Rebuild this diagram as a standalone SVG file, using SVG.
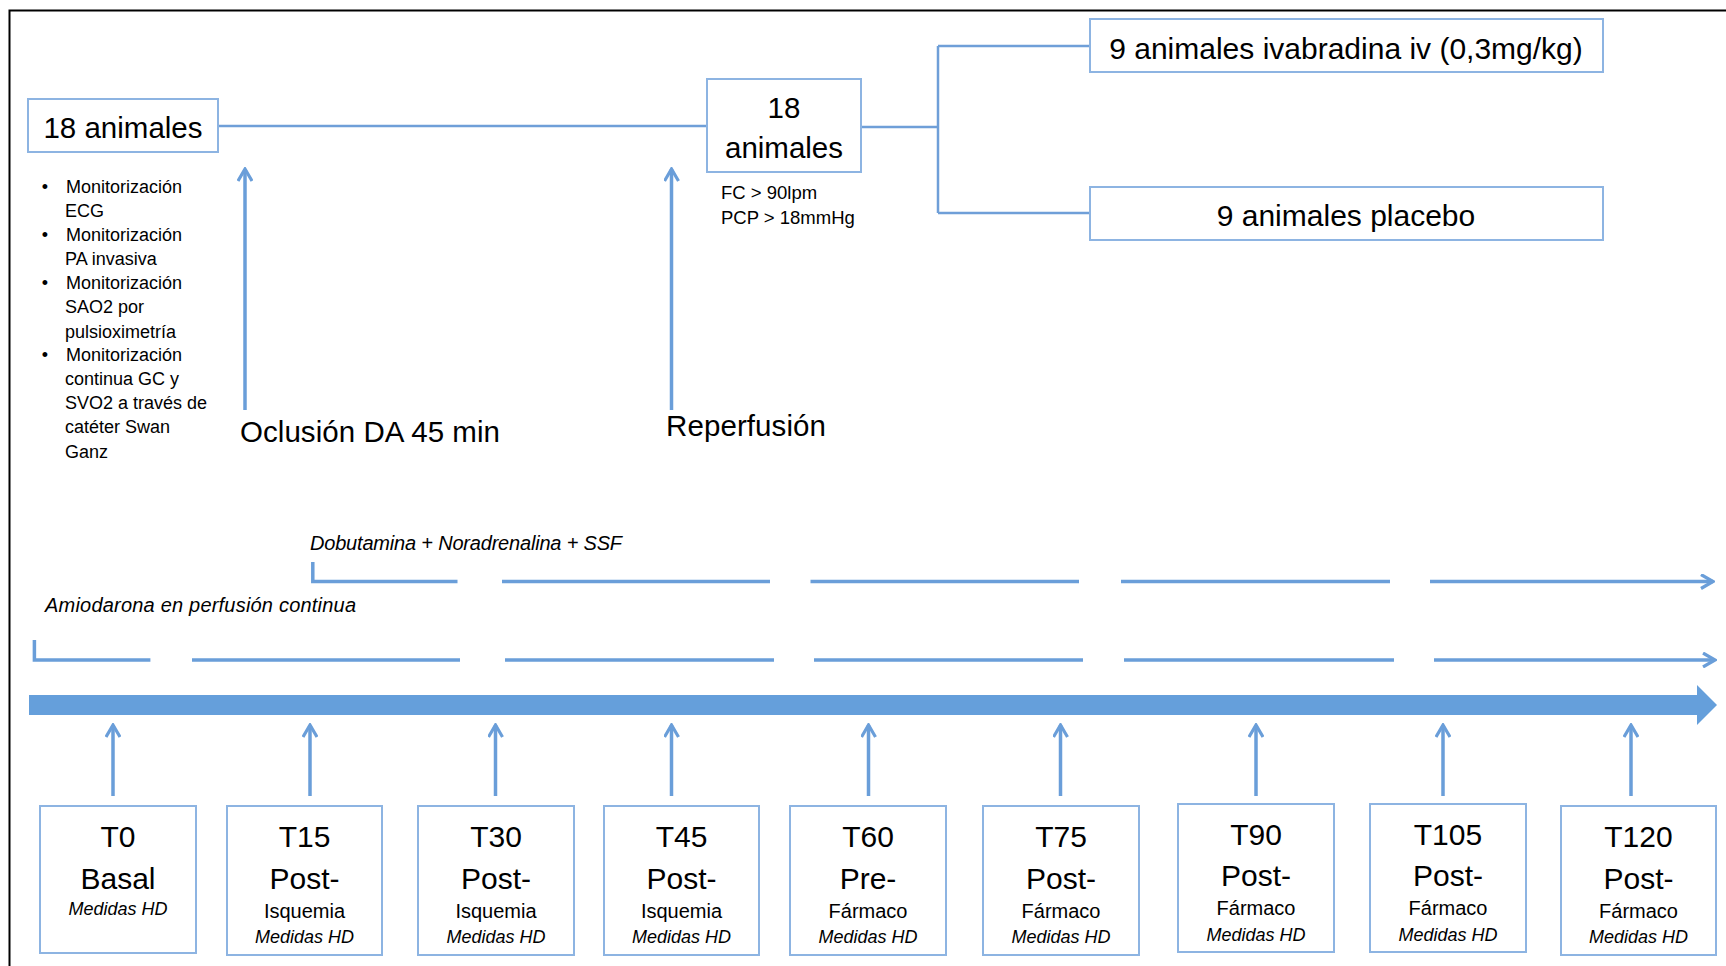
<svg xmlns="http://www.w3.org/2000/svg" width="1726" height="966" viewBox="0 0 1726 966">
  <style>
    text { font-family: "Liberation Sans", Arial, sans-serif; fill: #000; }
    .box { fill: #fff; stroke: #8DB4E2; stroke-width: 2; }
    .link { fill: none; stroke: #6F9FD8; stroke-width: 2.5; }
    .arrow { fill: none; stroke: #6A9ED9; stroke-width: 3.5; }
    .seg { fill: none; stroke: #6A9ED9; stroke-width: 3.5; }
    .bar { fill: #659FDB; }
    .big { font-size: 29.5px; }
    .lbl { font-size: 29.5px; }
    .grp { font-size: 30px; }
    .note { font-size: 18.5px; }
    .bul { font-size: 18px; }
    .drug { font-size: 20px; font-style: italic; }
    .tk { font-size: 30px; text-anchor: middle; }
    .sub { font-size: 20px; text-anchor: middle; }
    .hd { font-size: 18px; font-style: italic; text-anchor: middle; }
  </style>
  <defs>
    <marker id="head" viewBox="0 0 16 16" refX="14" refY="8" markerWidth="16" markerHeight="16" markerUnits="userSpaceOnUse" orient="auto">
      <path d="M2,1 L14,8 L2,15" fill="none" stroke="#6A9ED9" stroke-width="3.2" stroke-linejoin="miter"/>
    </marker>
  </defs>

  <rect width="1726" height="966" fill="#fff"/>
  <!-- outer frame (top and left edges) -->
  <path d="M9.5,966 V10.5 H1726" fill="none" stroke="#000" stroke-width="2"/>

  <!-- connectors -->
  <g id="connectors">
    <path class="link" d="M218,126 H707"/>
    <path class="link" d="M861,127 H938 M938,46 V213 M938,46 H1090 M938,213 H1090"/>
    <line class="arrow" x1="245" y1="410" x2="245" y2="169" marker-end="url(#head)"/>
    <line class="arrow" x1="671.5" y1="410" x2="671.5" y2="169" marker-end="url(#head)"/>

    <!-- infusion lines -->
    <path class="seg" d="M312.8,562 V581.5 H457.5"/>
    <path class="seg" d="M502,581.5 H770 M810.5,581.5 H1079 M1121,581.5 H1390"/>
    <line class="seg" x1="1430" y1="581.5" x2="1713" y2="581.5" marker-end="url(#head)"/>
    <path class="seg" d="M34.4,640 V660 H150.4"/>
    <path class="seg" d="M192,660 H460 M505,660 H774 M814,660 H1083 M1124,660 H1394"/>
    <line class="seg" x1="1434" y1="660" x2="1715" y2="660" marker-end="url(#head)"/>

    <!-- time axis -->
    <polygon class="bar" points="29,695 1697,695 1697,685 1717,705 1697,725 1697,715 29,715"/>

    <!-- measurement pointers -->
    <line class="arrow" x1="113" y1="796" x2="113" y2="725" marker-end="url(#head)"/>
    <line class="arrow" x1="310" y1="796" x2="310" y2="725" marker-end="url(#head)"/>
    <line class="arrow" x1="495.5" y1="796" x2="495.5" y2="725" marker-end="url(#head)"/>
    <line class="arrow" x1="671.5" y1="796" x2="671.5" y2="725" marker-end="url(#head)"/>
    <line class="arrow" x1="868.5" y1="796" x2="868.5" y2="725" marker-end="url(#head)"/>
    <line class="arrow" x1="1060.5" y1="796" x2="1060.5" y2="725" marker-end="url(#head)"/>
    <line class="arrow" x1="1256" y1="796" x2="1256" y2="725" marker-end="url(#head)"/>
    <line class="arrow" x1="1443" y1="796" x2="1443" y2="725" marker-end="url(#head)"/>
    <line class="arrow" x1="1631" y1="796" x2="1631" y2="725" marker-end="url(#head)"/>
  </g>

  <!-- top flow -->
  <g id="n-start">
    <rect class="box" x="28" y="99" width="190" height="53"/>
    <text class="big" x="123" y="137.5" text-anchor="middle">18 animales</text>
  </g>
  <g id="n-monitor">
    <text class="bul" x="44.8" y="192.5" text-anchor="middle">•</text>
    <text class="bul" x="66" y="192.5">Monitorización</text>
    <text class="bul" x="65" y="216.5">ECG</text>
    <text class="bul" x="44.8" y="241" text-anchor="middle">•</text>
    <text class="bul" x="66" y="241">Monitorización</text>
    <text class="bul" x="65" y="264.5">PA invasiva</text>
    <text class="bul" x="44.8" y="288.5" text-anchor="middle">•</text>
    <text class="bul" x="66" y="288.5">Monitorización</text>
    <text class="bul" x="65" y="312.5">SAO2 por</text>
    <text class="bul" x="65" y="337.5">pulsioximetría</text>
    <text class="bul" x="44.8" y="361" text-anchor="middle">•</text>
    <text class="bul" x="66" y="361">Monitorización</text>
    <text class="bul" x="65" y="384.5">continua GC y</text>
    <text class="bul" x="65" y="408.5">SVO2 a través de</text>
    <text class="bul" x="65" y="432.5">catéter Swan</text>
    <text class="bul" x="65" y="457.5">Ganz</text>
  </g>
  <g id="n-occlusion">
    <text class="lbl" x="240" y="441.5" textLength="260">Oclusión DA 45 min</text>
  </g>
  <g id="n-reperfusion">
    <text class="lbl" x="666" y="435.5" textLength="160">Reperfusión</text>
  </g>
  <g id="n-split">
    <rect class="box" x="707" y="79" width="154" height="93"/>
    <text class="big" x="784" y="118" text-anchor="middle">18</text>
    <text class="big" x="784" y="158" text-anchor="middle">animales</text>
    <text class="note" x="721" y="198.5">FC &gt; 90lpm</text>
    <text class="note" x="721" y="224">PCP &gt; 18mmHg</text>
  </g>
  <g id="n-ivabradina">
    <rect class="box" x="1090" y="19" width="513" height="53"/>
    <text class="grp" x="1346" y="58.5" text-anchor="middle">9 animales ivabradina iv (0,3mg/kg)</text>
  </g>
  <g id="n-placebo">
    <rect class="box" x="1090" y="187" width="513" height="53"/>
    <text class="grp" x="1346" y="225.5" text-anchor="middle">9 animales placebo</text>
  </g>

  <!-- infusion labels -->
  <g id="n-dobutamina">
    <text class="drug" x="310" y="550" textLength="312">Dobutamina + Noradrenalina + SSF</text>
  </g>
  <g id="n-amiodarona">
    <text class="drug" x="45" y="611.5" textLength="311">Amiodarona en perfusión continua</text>
  </g>

  <!-- measurement points -->
  <g id="t0">
    <rect class="box" x="40" y="806" width="156" height="147"/>
    <text class="tk" x="118" y="846.5">T0</text>
    <text class="tk" x="118" y="888.5">Basal</text>
    <text class="hd" x="118" y="914.5">Medidas HD</text>
  </g>
  <g id="t15">
    <rect class="box" x="227" y="806" width="155" height="149"/>
    <text class="tk" x="304.5" y="846.5">T15</text>
    <text class="tk" x="304.5" y="888.5">Post-</text>
    <text class="sub" x="304.5" y="918">Isquemia</text>
    <text class="hd" x="304.5" y="942.5">Medidas HD</text>
  </g>
  <g id="t30">
    <rect class="box" x="418" y="806" width="156" height="149"/>
    <text class="tk" x="496" y="846.5">T30</text>
    <text class="tk" x="496" y="888.5">Post-</text>
    <text class="sub" x="496" y="918">Isquemia</text>
    <text class="hd" x="496" y="942.5">Medidas HD</text>
  </g>
  <g id="t45">
    <rect class="box" x="604" y="806" width="155" height="149"/>
    <text class="tk" x="681.5" y="846.5">T45</text>
    <text class="tk" x="681.5" y="888.5">Post-</text>
    <text class="sub" x="681.5" y="918">Isquemia</text>
    <text class="hd" x="681.5" y="942.5">Medidas HD</text>
  </g>
  <g id="t60">
    <rect class="box" x="790" y="806" width="156" height="149"/>
    <text class="tk" x="868" y="846.5">T60</text>
    <text class="tk" x="868" y="888.5">Pre-</text>
    <text class="sub" x="868" y="918">Fármaco</text>
    <text class="hd" x="868" y="942.5">Medidas HD</text>
  </g>
  <g id="t75">
    <rect class="box" x="983" y="806" width="156" height="149"/>
    <text class="tk" x="1061" y="846.5">T75</text>
    <text class="tk" x="1061" y="888.5">Post-</text>
    <text class="sub" x="1061" y="918">Fármaco</text>
    <text class="hd" x="1061" y="942.5">Medidas HD</text>
  </g>
  <g id="t90">
    <rect class="box" x="1178" y="804" width="156" height="148"/>
    <text class="tk" x="1256" y="844.5">T90</text>
    <text class="tk" x="1256" y="886">Post-</text>
    <text class="sub" x="1256" y="915">Fármaco</text>
    <text class="hd" x="1256" y="940.5">Medidas HD</text>
  </g>
  <g id="t105">
    <rect class="box" x="1370" y="804" width="156" height="148"/>
    <text class="tk" x="1448" y="844.5">T105</text>
    <text class="tk" x="1448" y="886">Post-</text>
    <text class="sub" x="1448" y="915">Fármaco</text>
    <text class="hd" x="1448" y="940.5">Medidas HD</text>
  </g>
  <g id="t120">
    <rect class="box" x="1561" y="806" width="155" height="149"/>
    <text class="tk" x="1638.5" y="846.5">T120</text>
    <text class="tk" x="1638.5" y="888.5">Post-</text>
    <text class="sub" x="1638.5" y="918">Fármaco</text>
    <text class="hd" x="1638.5" y="942.5">Medidas HD</text>
  </g>
</svg>
